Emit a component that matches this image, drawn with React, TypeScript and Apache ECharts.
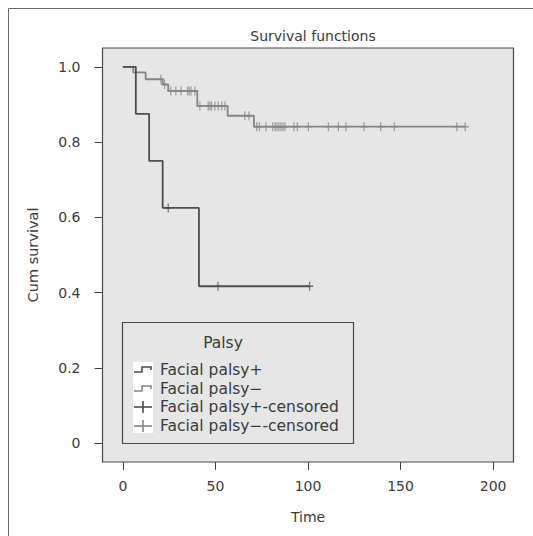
import React, { useEffect, useRef } from "react";
import * as echarts from "echarts";

const titleText = "Survival functions";
const xAxisName = "Time";
const yAxisName = "Cum survival";
const xTicks = [0, 50, 100, 150, 200];
const yTicks = [0, 0.2, 0.4, 0.6, 0.8, 1.0];

// Facial palsy+ Kaplan-Meier steps
const plusTimes = [0, 7.0, 14.2, 21.5, 41.1, 100.9];
const plusSurv = [1, 0.875, 0.75, 0.625, 0.417, 0.417];
const plusCensored = [24.5, 51.4, 100.9];

// Facial palsy- Kaplan-Meier steps
const minusTimes = [0, 5.6, 12.3, 21.5, 24.5, 40.2, 56.6, 70.8, 184.9];
const minusSurv = [1, 0.985, 0.967, 0.953, 0.936, 0.896, 0.87, 0.841, 0.841];
const minusCensored = [
  20.5, 22.5, 25.9, 28.6, 31.4, 35, 35.8, 36.8, 38.9, 41.6, 46.1, 47, 47.9,
  49.7, 51.5, 53.4, 55.1, 65.9, 68.1, 72.3, 73.7, 77.3, 80.9, 82.2, 83.2, 84.3,
  85.4, 86.5, 87.6, 92.4, 94.2, 100.2, 111, 116.4, 120.5, 130.3, 139.3, 146.6,
  180.4, 184.9,
];

const legendTitle = "Palsy";
const legendLabels = [
  "Facial palsy+",
  "Facial palsy\u2212",
  "Facial palsy+-censored",
  "Facial palsy\u2212-censored",
];

const DARK = "#4e4e4e";
const LIGHT = "#858585";
const FONT = "DejaVu Sans";
const TEXT = "#3a3a3a";

function survAt(times: number[], surv: number[], t: number) {
  let s = surv[0];
  for (let i = 0; i < times.length; i++) {
    if (times[i] <= t) s = surv[i];
  }
  return s;
}

const CROSS = "path://M5,0L5,10M0,5L10,5";

export default function App() {
  const ref = useRef<HTMLDivElement>(null);
  useEffect(() => {
    document.body.style.margin = "0";
    const chart = echarts.init(ref.current!, null, { renderer: "svg" });
    const lx = 122;
    const ly = 322;
    const rows = [370, 389, 407, 426];
    const textStyle = { fill: TEXT, font: `15.5px ${FONT}` };
    chart.setOption({
      animation: false,
      backgroundColor: "#ffffff",
      title: {
        text: titleText,
        left: 308,
        top: 24,
        textAlign: "center",
        textStyle: { fontFamily: FONT, fontSize: 14, fontWeight: "normal", color: TEXT },
      },
      grid: {
        left: 102.5,
        top: 48,
        width: 411,
        height: 414,
        show: true,
        backgroundColor: "#e6e6e6",
        borderColor: "#4a4a4a",
        borderWidth: 1.2,
      },
      xAxis: {
        type: "value",
        min: -11,
        max: 211,
        name: xAxisName,
        nameLocation: "middle",
        nameGap: 48,
        nameTextStyle: { fontFamily: FONT, fontSize: 14, color: TEXT },
        axisLine: { show: false, onZero: false },
        axisTick: { show: true, inside: false, length: 8, customValues: xTicks, lineStyle: { color: "#444" } },
        axisLabel: {
          customValues: xTicks,
          margin: 17,
          fontFamily: FONT,
          fontSize: 14,
          color: TEXT,
        },
        splitLine: { show: false },
      },
      yAxis: {
        type: "value",
        min: -0.05,
        max: 1.05,
        name: yAxisName,
        nameLocation: "middle",
        nameGap: 62,
        nameTextStyle: { fontFamily: FONT, fontSize: 14.5, color: TEXT },
        axisLine: { show: false, onZero: false },
        axisTick: { show: true, inside: false, length: 8, customValues: yTicks, lineStyle: { color: "#444" } },
        axisLabel: {
          customValues: yTicks,
          margin: 22,
          fontFamily: FONT,
          fontSize: 14,
          color: TEXT,
          formatter: (v: number) => (Math.abs(v) < 1e-9 ? "0" : v.toFixed(1)),
        },
        splitLine: { show: false },
      },
      series: [
        {
          type: "line",
          step: "end",
          data: minusTimes.map((t, i) => [t, minusSurv[i]]),
          showSymbol: false,
          lineStyle: { color: LIGHT, width: 1.8 },
        },
        {
          type: "line",
          step: "end",
          data: plusTimes.map((t, i) => [t, plusSurv[i]]),
          showSymbol: false,
          lineStyle: { color: DARK, width: 1.8 },
        },
        {
          type: "scatter",
          data: minusCensored.map((t) => [t, survAt(minusTimes, minusSurv, t)]),
          symbol: CROSS,
          symbolSize: [7, 9],
          itemStyle: { color: "transparent", borderColor: LIGHT, borderWidth: 1.3 },
        },
        {
          type: "scatter",
          data: plusCensored.map((t) => [t, survAt(plusTimes, plusSurv, t)]),
          symbol: CROSS,
          symbolSize: [7, 9],
          itemStyle: { color: "transparent", borderColor: DARK, borderWidth: 1.3 },
        },
      ],
      graphic: [
        {
          type: "rect",
          shape: { x: 8.5, y: 8.5, width: 700, height: 700 },
          style: { fill: "none", stroke: "#6a6a6a", lineWidth: 1 },
          silent: true,
        },
        {
          type: "rect",
          shape: { x: lx + 0.5, y: ly + 0.5, width: 231, height: 121 },
          style: { fill: "#e6e6e6", stroke: "#4a4a4a", lineWidth: 1.2 },
          z: 10,
        },
        {
          type: "rect",
          shape: { x: 133, y: 362, width: 20, height: 71 },
          style: { fill: "#ffffff" },
          z: 11,
        },
        {
          type: "text",
          x: 223,
          y: 343,
          style: { text: legendTitle, align: "center", verticalAlign: "middle", ...textStyle },
          z: 11,
        },
        {
          type: "polyline",
          shape: { points: [[134, rows[0] + 2], [142, rows[0] + 2], [142, rows[0] - 3], [151, rows[0] - 3], [151, rows[0]]] },
          style: { fill: "none", stroke: DARK, lineWidth: 1.6 },
          z: 12,
        },
        {
          type: "polyline",
          shape: { points: [[134, rows[1] + 2], [142, rows[1] + 2], [142, rows[1] - 3], [151, rows[1] - 3], [151, rows[1]]] },
          style: { fill: "none", stroke: LIGHT, lineWidth: 1.6 },
          z: 12,
        },
        { type: "line", shape: { x1: 134, y1: rows[2], x2: 152, y2: rows[2] }, style: { stroke: DARK, lineWidth: 1.6 }, z: 12 },
        { type: "line", shape: { x1: 143, y1: rows[2] - 6, x2: 143, y2: rows[2] + 6 }, style: { stroke: DARK, lineWidth: 1.6 }, z: 12 },
        { type: "line", shape: { x1: 134, y1: rows[3], x2: 152, y2: rows[3] }, style: { stroke: LIGHT, lineWidth: 1.6 }, z: 12 },
        { type: "line", shape: { x1: 143, y1: rows[3] - 6, x2: 143, y2: rows[3] + 6 }, style: { stroke: LIGHT, lineWidth: 1.6 }, z: 12 },
        ...legendLabels.map((label, i) => ({
          type: "text",
          x: 160,
          y: rows[i],
          style: { text: label, align: "left", verticalAlign: "middle", ...textStyle },
          z: 12,
        })),
      ],
    });
    return () => chart.dispose();
  }, []);
  return <div ref={ref} style={{ width: 533, height: 536 }} />;
}
